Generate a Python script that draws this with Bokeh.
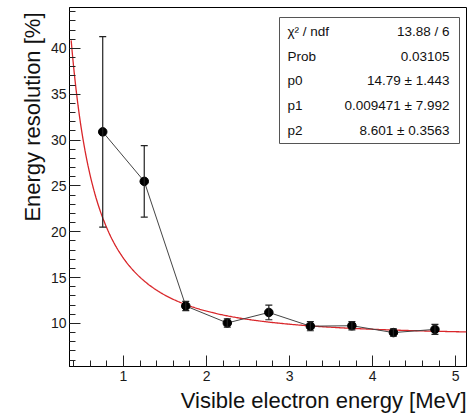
import numpy as np
from bokeh.plotting import figure
from bokeh.models import (ColumnDataSource, Whisker, TeeHead, Title,
                          SingleIntervalTicker, Range1d)
from bokeh.core.properties import value
from bokeh.embed import file_html
from bokeh.resources import INLINE

# ---- data ----
energy = [0.75, 1.25, 1.75, 2.25, 2.75, 3.25, 3.75, 4.25, 4.75]
resolution = [30.9, 25.5, 11.9, 10.05, 11.2, 9.7, 9.75, 9.0, 9.35]
res_err = [10.4, 3.9, 0.5, 0.45, 0.8, 0.5, 0.45, 0.4, 0.55]

# fit parameters (sqrt((p0/E)^2 + p1^2/E + p2^2))
p0 = 14.79
p1 = 0.009471
p2 = 8.601
fit_emin = 0.37
fit_emax = 5.13

stat_names = ["\u03c7\u00b2 / ndf", "Prob", "p0", "p1", "p2"]
stat_values = ["13.88 / 6", "0.03105", "14.79 \u00b1 1.443",
               "0.009471 \u00b1 7.992", "8.601 \u00b1 0.3563"]

x_title = "Visible electron energy [MeV]"
y_title = "Energy resolution [%]"

# ---- layout ----
X0, X1 = 0.35, 5.13
Y0, Y1 = 5.3, 44.47
FL, FR, FT, FB = 69, 466, 7, 366  # frame in pixels


def px2x(px):
    return X0 + (px - FL) * (X1 - X0) / (FR - FL)


def px2y(py):
    return Y1 - (py - FT) * (Y1 - Y0) / (FB - FT)


p = figure(width=468, height=417, output_backend="svg", toolbar_location=None,
           x_range=Range1d(X0, X1), y_range=Range1d(Y0, Y1),
           min_border_left=FL, min_border_right=468 - FR,
           min_border_top=FT, min_border_bottom=417 - FB)
p.xgrid.visible = False
p.ygrid.visible = False
p.outline_line_color = "black"
p.outline_line_width = 1
p.background_fill_color = "white"
p.border_fill_color = "white"

for ax in (p.xaxis[0], p.yaxis[0]):
    ax.major_tick_in = 11
    ax.major_tick_out = 0
    ax.minor_tick_in = 6
    ax.minor_tick_out = 0
    ax.axis_line_color = "black"
    ax.major_tick_line_color = "#222222"
    ax.minor_tick_line_color = "#222222"
    ax.major_label_text_font = "Liberation Sans"
    ax.major_label_text_font_size = "14px"
    ax.major_label_text_color = "#1a1a1a"

p.xaxis.ticker = SingleIntervalTicker(interval=1, num_minor_ticks=5)
p.yaxis.ticker = SingleIntervalTicker(interval=5, num_minor_ticks=5)
p.xaxis.major_label_standoff = 4
p.yaxis.major_label_standoff = 3

# fit curve
e = np.linspace(fit_emin, fit_emax, 400)
fit = np.sqrt((p0 / e) ** 2 + p1 ** 2 / e + p2 ** 2)
p.line(e, fit, line_color="#d9262a", line_width=1.3)

# data
src = ColumnDataSource(dict(
    x=energy, y=resolution,
    lo=[r - d for r, d in zip(resolution, res_err)],
    hi=[r + d for r, d in zip(resolution, res_err)],
))
p.line("x", "y", source=src, line_color="#444444", line_width=1)
w = Whisker(source=src, base="x", lower="lo", upper="hi",
            line_color="#222222", line_width=1.2,
            upper_head=TeeHead(size=7, line_color="#222222", line_width=1.2),
            lower_head=TeeHead(size=7, line_color="#222222", line_width=1.2),
            level="glyph")
p.add_layout(w)
p.scatter("x", "y", source=src, size=8.5, color="black")

# stats box
p.quad(left=[px2x(279)], right=[px2x(459)], top=[px2y(17)], bottom=[px2y(143)],
       fill_color="white", line_color="#555555", line_width=1)
row_py = [31, 55.5, 80, 105, 130]
p.text(x=[px2x(287)] * len(stat_names), y=[px2y(v) for v in row_py],
       text=stat_names, text_font=value("Liberation Sans"),
       text_font_size="13.5px", text_baseline="middle", text_align="left",
       text_color="#111111")
p.text(x=[px2x(449)] * len(stat_values), y=[px2y(v) for v in row_py],
       text=stat_values, text_font=value("Liberation Sans"),
       text_font_size="13.5px", text_baseline="middle", text_align="right",
       text_color="#111111")

# axis titles
p.add_layout(Title(text=x_title, align="right", text_font="Liberation Sans",
                   text_font_size="22px", text_font_style="normal",
                   text_color="#111111", standoff=4, offset=0), "below")
p.add_layout(Title(text=y_title, align="right", text_font="Liberation Sans",
                   text_font_size="22px", text_font_style="normal",
                   text_color="#111111", standoff=6, offset=5), "left")

open("out.html", "w").write(file_html(p, INLINE))
